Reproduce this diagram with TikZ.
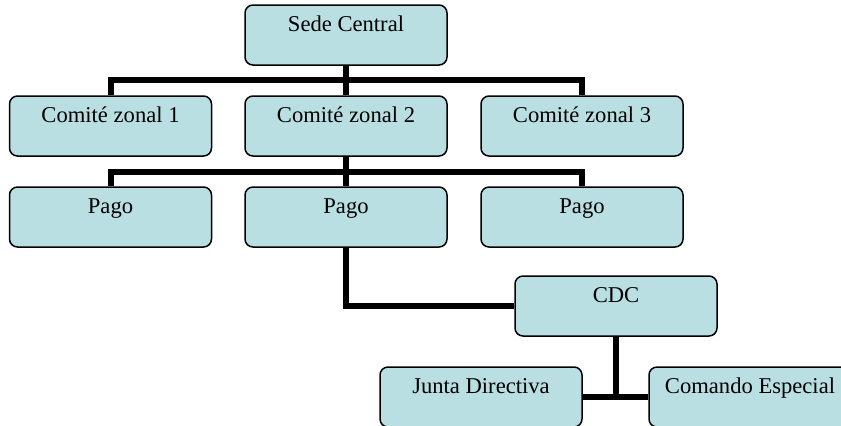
\documentclass[tikz,border=0pt]{standalone}
\usepackage{fontspec}
\setmainfont{Liberation Serif}
\definecolor{boxfill}{RGB}{185,223,227}
\begin{document}
\begin{tikzpicture}[x=0.5pt,y=-0.5pt,
  caja/.style={draw=black,line width=0.75pt,fill=boxfill,rounded corners=4pt,
    inner sep=0pt,minimum width=101pt,text height=13pt,text depth=17pt,
    font=\fontsize{11.3}{13}\selectfont},
  linea/.style={line width=3pt}]
\useasboundingbox (0,0) rectangle (841,425);
\clip (0,0) rectangle (841,425);
\node[caja](sede) at (346,35) {Sede Central};
\node[caja](cz1) at (110.5,126) {Comité zonal 1};
\node[caja](cz2) at (346,126) {Comité zonal 2};
\node[caja](cz3) at (582,126) {Comité zonal 3};
\node[caja](pago1) at (110.5,217) {Pago};
\node[caja](pago2) at (346,217) {Pago};
\node[caja](pago3) at (582,217) {Pago};
\node[caja](cdc) at (616,306) {CDC};
\node[caja](junta) at (481,397) {Junta Directiva};
\node[caja](comando) at (750,397) {Comando Especial};
\coordinate(bar1) at (346,80);
\coordinate(bar2) at (346,172);
\draw[linea] (sede.south) -- (bar1);
\draw[linea] (cz1.north) |- (bar1) -| (cz3.north);
\draw[linea] (bar1) -- (cz2.north);
\draw[linea] (cz2.south) -- (bar2);
\draw[linea] (pago1.north) |- (bar2) -| (pago3.north);
\draw[linea] (bar2) -- (pago2.north);
\draw[linea] (pago2.south) |- (cdc.west);
\draw[linea] (junta.east) -- (comando.west);
\draw[linea] (cdc.south) -- (cdc.south |- junta.east);
\end{tikzpicture}
\end{document}
